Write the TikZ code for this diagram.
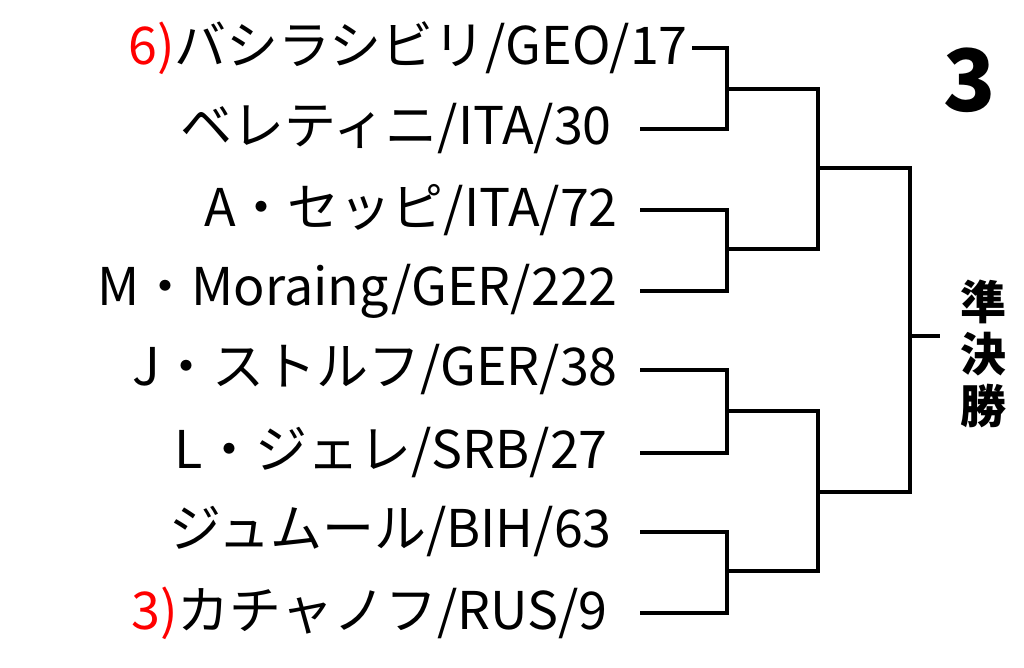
\documentclass[tikz,border=0pt]{standalone}
\usepackage{fontspec}
\setmainfont{Noto Sans CJK JP}
\usetikzlibrary{positioning}
\tikzset{player/.style={anchor=east, inner sep=0pt, font=\fontsize{52}{52}\selectfont},
  bline/.style={line width=4.5pt}}
\begin{document}
\begin{tikzpicture}[x=1pt,y=-1pt]
\useasboundingbox (0,0) rectangle (1024,668);
% players
\node (p1) [player] at (688,48) {\textcolor{red}{6)}バシラシビリ/GEO/17};
\node (p2) [player] at (612,129) {ベレティニ/ITA/30};
\node (p3) [player] at (618,210) {A・セッピ/ITA/72};
\node (p4) [player] at (618,291) {M・Moraing/GER/222};
\node (p5) [player] at (618,370) {J・ストルフ/GER/38};
\node (p6) [player] at (608,453) {L・ジェレ/SRB/27};
\node (p7) [player] at (612,532) {ジュムール/BIH/63};
\node (p8) [player] at (608,613) {\textcolor{red}{3)}カチャノフ/RUS/9};
\node (blk) at (970,80) {\fontsize{86}{86}\selectfont\bfseries 3};
\node (semi) [font=\fontsize{46}{52}\selectfont\bfseries, align=center] at (983,354) {準\\決\\勝};
% bracket
\coordinate (a1) at (727,89);
\coordinate (a2) at (727,249);
\coordinate (a3) at (727,411);
\coordinate (a4) at (727,571);
\coordinate (b1) at (818,168);
\coordinate (b2) at (818,492);
\draw [bline] (692,48) -| (a1) |- (640,129);
\draw [bline] (640,210) -| (a2) |- (640,291);
\draw [bline] (640,370) -| (a3) |- (640,453);
\draw [bline] (640,532) -| (a4) |- (640,613);
\draw [bline] (a1) -| (b1) |- (a2);
\draw [bline] (a3) -| (b2) |- (a4);
\draw [bline] (b1) -| (910,336) |- (b2);
\draw [bline] (910,336) -- (940,336);
\end{tikzpicture}
\end{document}
